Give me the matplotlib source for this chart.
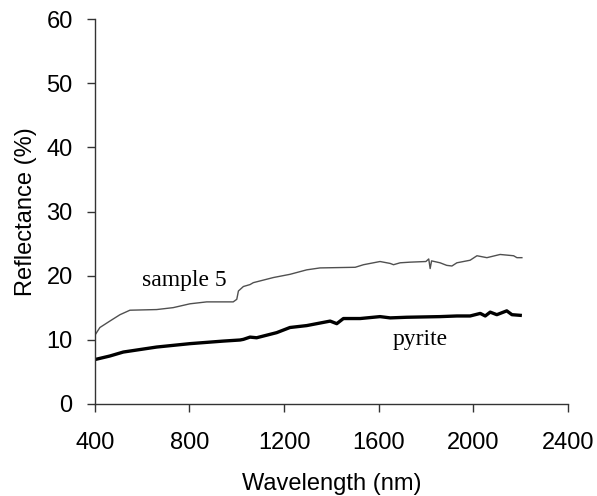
import matplotlib.pyplot as plt

# sample 5 (thin grey trace)
sample5_wl = [400, 421, 463, 506, 548, 661, 731, 802, 873, 985, 1000, 1007, 1028,
              1056, 1070, 1155, 1225, 1296, 1352, 1501, 1536, 1606, 1649, 1663,
              1691, 1733, 1800, 1812, 1818, 1824, 1860, 1888, 1910, 1931, 1987,
              2016, 2058, 2114, 2171, 2185, 2206]
sample5_refl = [10.7, 11.9, 12.9, 13.9, 14.6, 14.7, 15.0, 15.6, 15.9, 15.9, 16.3,
                17.6, 18.3, 18.6, 18.9, 19.7, 20.2, 20.9, 21.2, 21.3, 21.7, 22.2,
                21.9, 21.7, 22.0, 22.1, 22.2, 22.6, 21.1, 22.3, 22.0, 21.6, 21.5,
                22.0, 22.4, 23.1, 22.8, 23.3, 23.1, 22.8, 22.8]

# pyrite (thick black trace)
pyrite_wl = [400, 463, 520, 661, 802, 943, 1014, 1028, 1056, 1084, 1169, 1225,
             1296, 1395, 1423, 1451, 1522, 1606, 1649, 1719, 1860, 1931, 1987,
             2030, 2051, 2072, 2100, 2142, 2164, 2199]
pyrite_refl = [6.9, 7.45, 8.07, 8.85, 9.38, 9.78, 9.95, 10.05, 10.4, 10.3, 11.1,
               11.9, 12.2, 12.9, 12.5, 13.3, 13.3, 13.6, 13.4, 13.5, 13.6, 13.7,
               13.7, 14.1, 13.7, 14.3, 13.9, 14.5, 13.9, 13.8]

x_ticks = [400, 800, 1200, 1600, 2000, 2400]
y_ticks = [0, 10, 20, 30, 40, 50, 60]

sans = "Liberation Sans"
serif = "Liberation Serif"

fig = plt.figure(figsize=(5.97, 4.96), dpi=100)
ax = fig.add_axes([0.159, 0.186, 0.792, 0.775])

ax.plot(sample5_wl, sample5_refl, color="#505050", linewidth=1.0)
ax.plot(pyrite_wl, pyrite_refl, color="black", linewidth=2.4)

ax.text(600, 19.2, "sample 5", family=serif, fontsize=17, va="center")
ax.text(1660, 10.0, "pyrite", family=serif, fontsize=17, va="center")

ax.set_xlim(400, 2400)
ax.set_ylim(0, 60)
ax.set_xticks(x_ticks)
ax.set_yticks(y_ticks)

for side in ("top", "right"):
    ax.spines[side].set_visible(False)
for side in ("left", "bottom"):
    ax.spines[side].set_color("#333333")
    ax.spines[side].set_linewidth(1.0)

ax.tick_params(direction="out", length=6, width=1, color="#333333",
               labelsize=17)
ax.tick_params(axis="x", pad=14)
ax.tick_params(axis="y", pad=10)
for lab in ax.get_xticklabels() + ax.get_yticklabels():
    lab.set_family(sans)

ax.set_xlabel("Wavelength (nm)", family=sans, fontsize=17, labelpad=14)
ax.set_ylabel("Reflectance (%)", family=sans, fontsize=17, labelpad=7)

fig.savefig("out.png", dpi=100)
